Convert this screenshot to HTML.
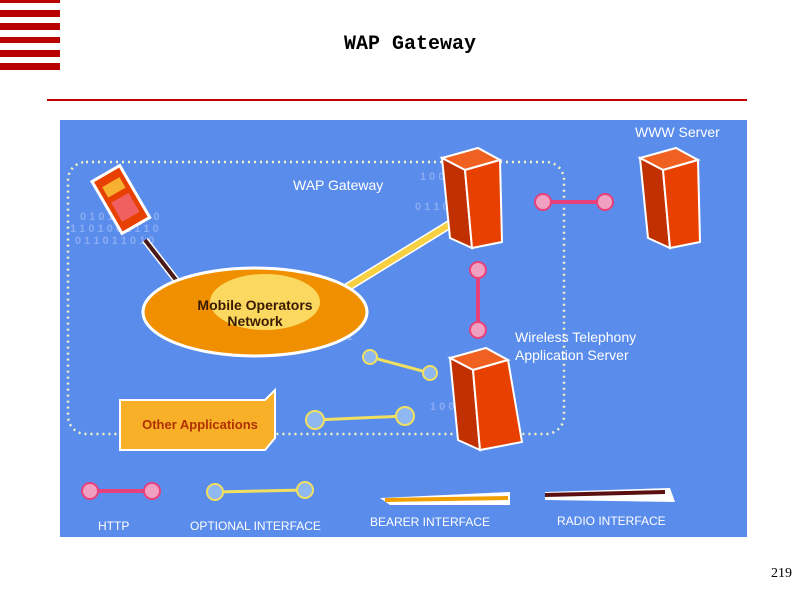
<!DOCTYPE html>
<html><head><style>
body{margin:0;width:800px;height:600px;background:#fff;position:relative;overflow:hidden;font-family:"Liberation Mono",monospace}
.s{position:absolute;left:0;width:60px;background:#b80000}
</style></head><body>
<div class="s" style="top:0;height:3px"></div>
<div class="s" style="top:10px;height:7px"></div>
<div class="s" style="top:23px;height:7px"></div>
<div class="s" style="top:37px;height:6px"></div>
<div class="s" style="top:50px;height:7px"></div>
<div class="s" style="top:63px;height:7px"></div>
<div style="position:absolute;left:0;width:820px;top:33px;text-align:center;font-size:20px;color:#000;font-weight:bold">WAP Gateway</div>
<div style="position:absolute;left:47px;width:700px;top:99px;height:2px;background:#c00000"></div>
<div style="position:absolute;right:8px;top:566px;font-family:'Liberation Serif',serif;font-size:14px">219</div>
<svg style="position:absolute;left:60px;top:120px" width="687" height="417" font-family="Liberation Sans,sans-serif" font-weight="bold">
<rect width="687" height="417" fill="#5a8cec"/>
<g fill="#9dbaf5" font-size="11" opacity="0.7">
<text x="20" y="100">0 1 0 1 1 0 1 1 0</text><text x="10" y="112">1 1 0 1 0 0 1 1 1 0</text><text x="15" y="124">0 1 1 0 1 1 0 1 0</text>
<text x="90" y="210">1 0 1 1 0 1 0</text><text x="250" y="170">1 0 1 1 0</text><text x="250" y="220">0 1 1 0 1</text>
<text x="360" y="60">1 0 0 1</text><text x="355" y="90">0 1 1 0 1</text><text x="370" y="290">1 0 0 1 1</text><text x="600" y="80">1 0 0 1</text>
</g>
<rect x="8" y="42" width="496" height="272" rx="18" fill="none" stroke="#f2f2c8" stroke-width="2.5" stroke-dasharray="2 4"/>
<text x="233" y="70" fill="#fff" font-size="14" font-weight="normal">WAP Gateway</text>
<text x="575" y="17" fill="#fff" font-size="14" font-weight="normal">WWW Server</text>
<text x="455" y="222" fill="#fff" font-size="14" font-weight="normal">Wireless Telephony</text>
<text x="455" y="240" fill="#fff" font-size="14" font-weight="normal">Application Server</text>
<line x1="85" y1="120" x2="120" y2="165" stroke="#fff" stroke-width="7"/><line x1="85" y1="120" x2="120" y2="165" stroke="#4a1a1a" stroke-width="4"/>
<line x1="270" y1="178" x2="400" y2="98" stroke="#fff" stroke-width="9"/><line x1="270" y1="178" x2="400" y2="98" stroke="#f6d040" stroke-width="6"/>
<g transform="rotate(-30 60 80)"><rect x="45" y="50" width="32" height="60" fill="#e84000" stroke="#fff" stroke-width="3"/><rect x="51" y="60" width="20" height="12" fill="#f8b030"/><rect x="51" y="78" width="20" height="22" fill="#f06060"/></g>
<ellipse cx="195" cy="192" rx="112" ry="44" fill="#f09000" stroke="#fff" stroke-width="3"/>
<ellipse cx="205" cy="182" rx="55" ry="28" fill="#fbd860"/>
<text x="195" y="190" text-anchor="middle" fill="#3a1a00" font-size="14">Mobile Operators</text>
<text x="195" y="206" text-anchor="middle" fill="#3a1a00" font-size="14">Network</text>
<g stroke="#fff" stroke-width="2">
<polygon points="382,38 418,28 440,40 405,50" fill="#f06020"/><polygon points="382,38 405,50 412,128 390,118" fill="#c03000"/><polygon points="405,50 440,40 442,122 412,128" fill="#e84000"/>
<polygon points="580,38 616,28 638,40 603,50" fill="#f06020"/><polygon points="580,38 603,50 610,128 588,118" fill="#c03000"/><polygon points="603,50 638,40 640,122 610,128" fill="#e84000"/>
<polygon points="390,238 426,228 448,240 413,250" fill="#f06020"/><polygon points="390,238 413,250 420,330 398,320" fill="#c03000"/><polygon points="413,250 448,240 462,322 420,330" fill="#e84000"/></g>
<polygon points="60,280 205,280 215,270 215,318 205,330 60,330" fill="#f8b028" stroke="#fff" stroke-width="2"/>
<text x="140" y="309" text-anchor="middle" fill="#b03000" font-size="13">Other Applications</text>
<g stroke="#e8407a" stroke-width="4" fill="none"><line x1="483" y1="82" x2="545" y2="82"/><line x1="418" y1="150" x2="418" y2="210"/><line x1="35" y1="371" x2="90" y2="371"/></g>
<g fill="#f0a0c0" stroke="#e8407a" stroke-width="2"><circle cx="483" cy="82" r="8"/><circle cx="545" cy="82" r="8"/><circle cx="418" cy="150" r="8"/><circle cx="418" cy="210" r="8"/><circle cx="30" cy="371" r="8"/><circle cx="92" cy="371" r="8"/></g>
<g stroke="#f0e060" stroke-width="3" fill="none"><line x1="310" y1="237" x2="370" y2="253"/><line x1="255" y1="300" x2="345" y2="296"/><line x1="155" y1="372" x2="245" y2="370"/></g>
<g fill="#90b8f0" stroke="#f0e060" stroke-width="2"><circle cx="310" cy="237" r="7"/><circle cx="370" cy="253" r="7"/><circle cx="255" cy="300" r="9"/><circle cx="345" cy="296" r="9"/><circle cx="155" cy="372" r="8"/><circle cx="245" cy="370" r="8"/></g>
<polygon points="320,378 450,372 450,385 330,385" fill="#fff"/><line x1="325" y1="380" x2="448" y2="378" stroke="#f0a000" stroke-width="4"/>
<polygon points="485,372 610,368 615,382 485,380" fill="#fff"/><line x1="485" y1="375" x2="605" y2="372" stroke="#5a1010" stroke-width="4"/>
<g fill="#fff" font-size="12" font-weight="normal"><text x="38" y="410">HTTP</text><text x="130" y="410">OPTIONAL INTERFACE</text><text x="310" y="406">BEARER INTERFACE</text><text x="497" y="405">RADIO INTERFACE</text></g>
</svg>
</body></html>
